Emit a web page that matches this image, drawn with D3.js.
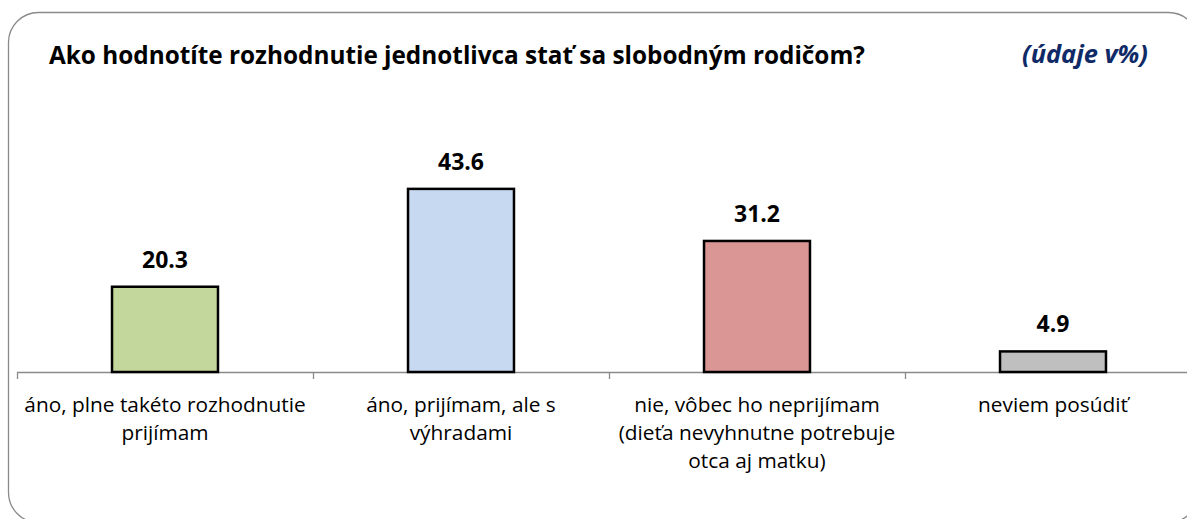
<!DOCTYPE html>
<meta charset="utf-8">
<style>
body { margin: 0; background: #fff; }
text { font-family: "Open Sans", "Noto Sans", sans-serif; }
.title { font-weight: bold; font-size: 22px; fill: #000; }
.unit { font-weight: bold; font-style: italic; font-size: 22px; fill: #0f2a66; }
.val { font-weight: bold; font-size: 21px; fill: #000; }
.cat { font-size: 20px; fill: #000; }
</style>
<svg width="1187" height="519"></svg>
<script src="https://cdn.jsdelivr.net/npm/d3@7/dist/d3.min.js"></script>
<script>
// data
var categories = ["áno, plne takéto rozhodnutie\nprijímam",
                  "áno, prijímam, ale s\nvýhradami",
                  "nie, vôbec ho neprijímam\n(dieťa nevyhnutne potrebuje\notca aj matku)",
                  "neviem posúdiť"];
var values = [20.3, 43.6, 31.2, 4.9];
var colors = ["#c3d69b", "#c6d9f0", "#d99694", "#bfbfbf"];
var title = "Ako hodnotíte rozhodnutie jednotlivca stať sa slobodným rodičom?";
var unitLabel = "(údaje v%)";

var svg = d3.select("svg");

// shrink/grow font so the text gets the width it has in the original
function fitWidth(sel, w) {
  var fs = parseFloat(sel.style("font-size"));
  var cur = sel.node().getComputedTextLength();
  var size = fs * w / cur;
  sel.style("font-size", size + "px");
  return size;
}

// frame
svg.append("rect")
  .attr("x", 8.5).attr("y", 12.5)
  .attr("width", 1190).attr("height", 510)
  .attr("rx", 30).attr("ry", 30)
  .attr("fill", "none").attr("stroke", "#8a8a8a").attr("stroke-width", 1.3);

var tt = svg.append("text").attr("class", "title")
  .attr("x", 49).attr("y", 64).text(title);
fitWidth(tt, 816);
var ut = svg.append("text").attr("class", "unit")
  .attr("x", 1148).attr("y", 63).attr("text-anchor", "end").text(unitLabel);
fitWidth(ut, 126);

var x = d3.scaleBand()
  .domain(d3.range(categories.length))
  .range([17, 1201])
  .paddingInner(0.642).paddingOuter(0.321);
var step = x.step();
var y = d3.scaleLinear().domain([0, 50]).range([372, 162]);

// axis line + ticks between categories
var axis = svg.append("g");
axis.append("line")
  .attr("x1", 17).attr("x2", 1187).attr("y1", 372.5).attr("y2", 372.5)
  .attr("stroke", "#8a8a8a").attr("stroke-width", 1.3);
axis.selectAll("line.tick")
  .data(d3.range(categories.length))
  .enter().append("line").attr("class", "tick")
  .attr("x1", function(d) { return Math.round(x(d) - step * 0.321) + 0.5; })
  .attr("x2", function(d) { return Math.round(x(d) - step * 0.321) + 0.5; })
  .attr("y1", 372).attr("y2", 379)
  .attr("stroke", "#8a8a8a").attr("stroke-width", 1.3);

svg.selectAll("rect.bar")
  .data(values)
  .enter().append("rect").attr("class", "bar")
  .attr("x", function(d, i) { return x(i); })
  .attr("y", function(d) { return y(d); })
  .attr("width", x.bandwidth())
  .attr("height", function(d) { return y(0) - y(d); })
  .attr("fill", function(d, i) { return colors[i]; })
  .attr("stroke", "#000").attr("stroke-width", 2.5);

var vals = svg.selectAll("text.val")
  .data(values)
  .enter().append("text").attr("class", "val")
  .attr("x", function(d, i) { return x(i) + x.bandwidth() / 2; })
  .attr("y", function(d) { return y(d) - 19; })
  .attr("text-anchor", "middle")
  .text(function(d) { return d.toFixed(1); });
var vs = fitWidth(d3.select(vals.nodes()[1]), 46);
vals.style("font-size", vs + "px");

var cats = [];
categories.forEach(function(c, i) {
  var t = svg.append("text").attr("class", "cat")
    .attr("text-anchor", "middle");
  c.split("\n").forEach(function(line, j) {
    t.append("tspan")
      .attr("x", x(i) + x.bandwidth() / 2)
      .attr("y", 412 + j * 28)
      .text(line);
  });
  cats.push(t);
});
var cs = fitWidth(cats[3], 150);
cats.forEach(function(t) { t.style("font-size", cs + "px"); });
</script>
